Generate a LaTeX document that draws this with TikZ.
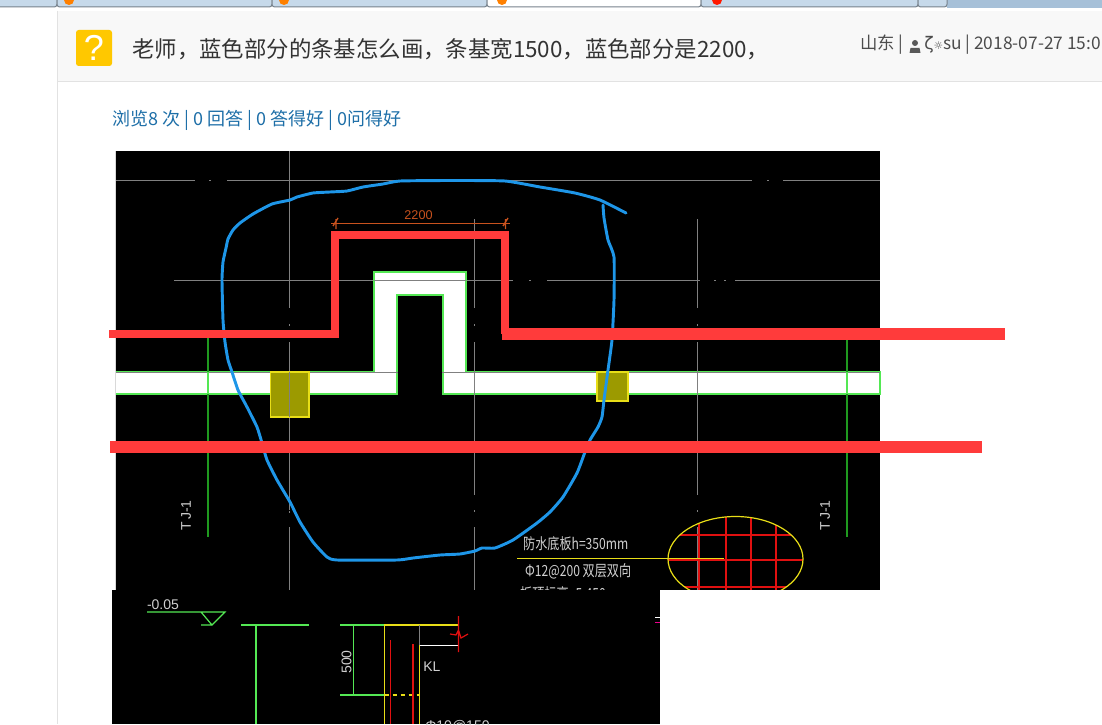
\documentclass[tikz,border=0pt]{standalone}
\usepackage{fontspec}
\setmainfont{Noto Sans CJK SC}
\newfontfamily\latinfont{Liberation Sans}
\newfontfamily\symbfont{DejaVu Sans}
\definecolor{tabblue}{HTML}{C6D9EA}
\definecolor{tabdark}{HTML}{A6C0D8}
\definecolor{headbg}{HTML}{F8F8F8}
\definecolor{rule}{HTML}{E2E2E2}
\definecolor{linkblue}{HTML}{1E6FA8}
\definecolor{askyellow}{HTML}{FFC800}
\definecolor{penred}{HTML}{FF3B3B}
\definecolor{penblue}{HTML}{1E96E8}
\definecolor{cadgray}{HTML}{808080}
\definecolor{cadgreen}{HTML}{54E854}
\definecolor{dimgreen}{HTML}{1F9A1F}
\definecolor{cadolive}{HTML}{9C9A00}
\definecolor{cadorange}{HTML}{C8521E}
\definecolor{cadred}{HTML}{E01010}
\definecolor{cadtext}{HTML}{D0D0D0}
\begin{document}
\begin{tikzpicture}[x=0.75pt, y=-0.75pt]
\tikzstyle{tab} = [fill=tabblue, draw=black!40!tabblue, line width=0.75pt, rounded corners=2pt]
\tikzstyle{grayline} = [draw=cadgray, line width=0.75pt]
\tikzstyle{greenline} = [draw=cadgreen, line width=0.9pt]
\tikzstyle{yellowline} = [draw=yellow!90!black, line width=0.9pt]
\tikzstyle{redline} = [draw=cadred, line width=0.9pt]
\tikzstyle{pen} = [draw=penred, line width=6pt]
\tikzstyle{column} = [fill=cadolive, draw=yellow!90!black, line width=0.9pt]
\tikzstyle{cadlabel} = [text=cadtext, inner sep=0pt, font=\latinfont\fontsize{10.5}{10.5}\selectfont]
\tikzstyle{cadnote} = [cadlabel, anchor=west, font=\fontsize{11.5}{12}\selectfont, xscale=0.79, transform shape]
\clip (0,0) rectangle (1102,724);
\fill[white] (0,0) rectangle (1102,724);
% browser tabs
\fill[tabdark] (947,0) rectangle (1102,8);
\draw[tab] (-5,-5) rectangle (57,7);
\draw[tab] (57,-5) rectangle (272,7);
\draw[tab] (272,-5) rectangle (487,7);
\draw[tab, fill=white] (487,-5) rectangle (701,7);
\draw[tab] (701,-5) rectangle (918,7);
\draw[tab] (918,-5) rectangle (947,7);
\fill[orange] (69,0) circle (5);
\fill[orange] (284,0) circle (5);
\fill[orange] (502,0) circle (5);
\fill[red!80!orange] (717,0) circle (5);
% question header
\fill[headbg] (57,11) rectangle (1102,81);
\draw[rule] (57,81) -- (1102,81);
\draw[rule] (57,11) -- (57,724);
\fill[askyellow, rounded corners=2pt] (76,30) rectangle (112,66);
\node[text=white, inner sep=0pt, font=\latinfont\fontsize{27}{27}\selectfont] (mark) at (94,48) {?};
\node[anchor=west, inner sep=0pt, text=black!80, font=\fontsize{16.8}{20}\selectfont] (title) at (132,49) {老师，蓝色部分的条基怎么画，条基宽1500，蓝色部分是2200，};
\node[anchor=west, inner sep=0pt, text=black!70, font=\fontsize{13}{15}\selectfont] (place) at (860,45) {山东 |};
\fill[black!65] (915,43) circle (3);
\fill[black!65] (909.5,53) -- (910.5,48) -- (919.5,48) -- (920.5,53) -- cycle;
\node[anchor=west, inner sep=0pt, text=black!70, font=\fontsize{13}{15}\selectfont] (user) at (924,45) {{\symbfont ζ}{\symbfont\fontsize{8}{8}\selectfont ☼}su | 2018-07-27 15:0};
\node[anchor=west, inner sep=0pt, text=linkblue, font=\fontsize{13.5}{16}\selectfont] (stats) at (112,120.5) {浏览8 次 | 0 回答 | 0 答得好 | 0问得好};
% first drawing
\fill[black] (116,151) rectangle (880,590);
\draw[black!15] (115.5,151) -- (115.5,590);
\draw[grayline] (116,180.5) -- (195,180.5) (209,180.5) -- (211,180.5) (227,180.5) -- (752,180.5) (767,180.5) -- (769,180.5) (783,180.5) -- (880,180.5);
\draw[grayline] (174,280.5) -- (513,280.5) (529,280.5) -- (531,280.5) (547,280.5) -- (700,280.5) (714,280.5) -- (716,280.5) (724,280.5) -- (726,280.5) (735,280.5) -- (880,280.5);
\draw[grayline] (289.5,151) -- (289.5,308) (289.5,324) -- (289.5,326) (289.5,342) -- (289.5,510) (289.5,511) -- (289.5,513) (289.5,527) -- (289.5,590);
% walls
\filldraw[fill=white, greenline] (116,372) -- (374,372) -- (374,272) -- (466,272) -- (466,372) -- (880,372) -- (880,394) -- (443,394) -- (443,295) -- (397,295) -- (397,394) -- (116,394);
\draw[grayline] (116,372.5) -- (880,372.5) (374,280.5) -- (466,280.5);
\draw[draw=black, line width=1pt] (397.6,372.5) -- (442.4,372.5);
\draw[grayline] (474.5,219) -- (474.5,308) (474.5,324) -- (474.5,326) (474.5,342) -- (474.5,495) (474.5,510) -- (474.5,512) (474.5,527) -- (474.5,590);
\draw[grayline] (697.5,219) -- (697.5,308) (697.5,324) -- (697.5,326) (697.5,342) -- (697.5,495) (697.5,510) -- (697.5,512) (697.5,527) -- (697.5,590);
\draw[draw=dimgreen, line width=0.9pt] (208,338) -- (208,537);
\draw[greenline] (208,372) -- (208,394);
\draw[draw=dimgreen, line width=0.9pt] (847,338) -- (847,537);
\draw[greenline] (847,372) -- (847,394);
\draw[column] (270.5,372) rectangle (309,417);
\draw[grayline] (289.5,372) -- (289.5,417);
\draw[column] (597,372) rectangle (628,401);
% dimension 2200
\draw[draw=cadorange, line width=0.75pt] (331,223) -- (510,223);
\draw[draw=cadorange, line width=1pt] (333,226) -- (338,218) (336,219) -- (336,229);
\draw[draw=cadorange, line width=1pt] (503,226) -- (508,218) (505.5,219) -- (505.5,229);
\node[text=cadorange, inner sep=0pt, font=\latinfont\fontsize{9.5}{9.5}\selectfont] (width) at (418.5,215) {2200};
% labels and slab hatch
\node[cadlabel, rotate=90] (tjleft) at (186,515.5) {T\,J-1};
\node[cadlabel, rotate=90] (tjright) at (825,515.5) {T\,J-1};
\begin{scope}
\clip (735.5,559) ellipse (67.5 and 42.5);
\draw[redline] (699,510) -- (699,600) (726,510) -- (726,600) (751,510) -- (751,600) (776,510) -- (776,600);
\draw[redline] (660,535) -- (810,535) (660,560) -- (810,560) (660,587) -- (810,587);
\end{scope}
\draw[yellowline] (735.5,559) ellipse (67.5 and 42.5);
\draw[yellowline] (517,558.7) -- (724,558.7);
\node[cadnote] (slab) at (523,544) {防水底板h=350mm};
\node[cadnote] (rebar) at (525,571) {Φ12@200 双层双向};
\node[cadnote] (level) at (520,594) {板顶标高 -5.450};
% hand drawn outline
\draw[draw=penblue, line width=2.2pt, line join=round, line cap=round] plot[smooth, tension=0.3] coordinates {(603,205) (604,218) (608,240) (614,257) (614,300) (612,340) (608,370) (604,400) (602,417) (598,427) (590,440) (585,452) (577,473) (563,497) (550,512) (537,523) (513,540) (495,548) (482,548) (475,551) (460,554) (440,555) (413,558) (397,560) (337,560) (327,557) (313,542) (300,522) (290,502) (277,480) (267,460) (262,443) (257,427) (247,407) (238,390) (232,372) (228,360) (225,342) (223,320) (222,280) (223,262) (226,248) (228,239) (233,230) (240,223) (253,214) (272,204) (290,200) (297,197) (313,193) (330,192) (347,191) (363,187) (383,184) (400,181) (450,180.5) (505,181) (540,187) (575,193) (600,200) (626,213)};
% red marks
\draw[pen, line join=miter] (109,334) -- (335,334) -- (335,234.5) -- (505,234.5) -- (505,334);
\draw[pen, line width=8.5pt] (502,334) -- (1005,334);
\draw[pen, line width=9pt] (110,447) -- (982,447);
% second drawing
\fill[white] (660,590) rectangle (1102,724);
\fill[black] (112,590) rectangle (660,724);
\node[cadlabel] (level2) at (163,605) {-0.05};
\draw[greenline] (147,612) -- (225,612) -- (212,625) -- (201,612) (201,625) -- (212,625);
\draw[greenline] (241,625) -- (309,625) (256,625) -- (256,724);
\draw[greenline] (340,625) -- (384,625) (353.5,625) -- (353.5,695) (340,695) -- (384,695);
\node[cadlabel, rotate=90] (height) at (346.5,662) {500};
\draw[yellowline] (459,625) -- (384.5,625) -- (384.5,724) (419.5,645) -- (419.5,724);
\draw[yellowline, dashed] (384.5,695) -- (419.5,695);
\draw[grayline] (419.5,625) -- (419.5,645);
\draw[draw=white, line width=0.9pt] (419.5,645.5) -- (459,645.5);
\draw[redline] (390.5,640) -- (390.5,724) (413,644) -- (413,724);
\draw[redline] (458.5,616) -- (458.5,652) (450,634) -- (456,635) -- (458.5,630) -- (461,638) -- (468,634);
\node[cadlabel, anchor=west] (beam) at (423,667) {KL};
\node[cadlabel, anchor=west] (stirrup) at (425,726) {Φ10@150};
\draw[draw=white, line width=0.75pt] (655,617) -- (660,617);
\draw[draw=magenta, line width=0.9pt] (655,622.5) -- (660,622.5);
\end{tikzpicture}
\end{document}
